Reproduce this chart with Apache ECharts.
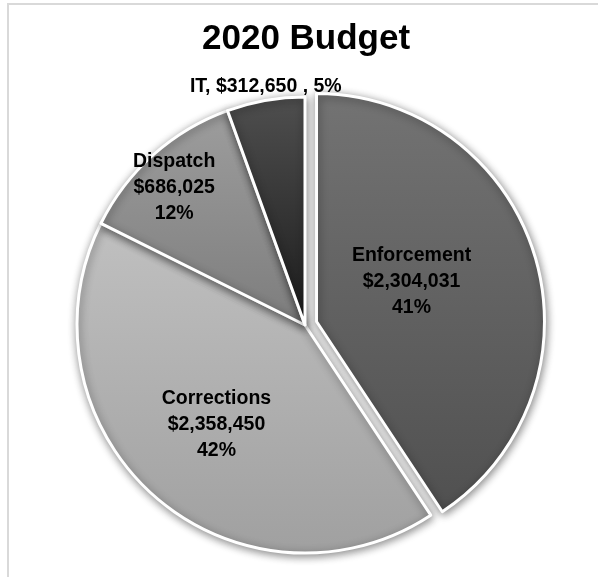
<!DOCTYPE html>
<html>
<head>
<meta charset="utf-8">
<script src="https://cdn.jsdelivr.net/npm/echarts@6/dist/echarts.min.js"></script>
<style>
html,body{margin:0;padding:0;background:#fff;}
#chart{width:598px;height:577px;}
</style>
</head>
<body>
<div id="chart"></div>
<script>
const titleText = '2020 Budget';
const categories = ['Enforcement', 'Corrections', 'Dispatch', 'IT'];
const values = [2304031, 2358450, 686025, 312650];
const singleLineLabels = ['IT'];
const explodedSlices = ['Enforcement'];

const sliceGradients = {
  'Enforcement': ['#737373', '#505050'],
  'Corrections': ['#c0c0c0', '#a0a0a0'],
  'Dispatch': ['#9d9d9d', '#7d7d7d'],
  'IT': ['#4f4f4f', '#1b1b1b']
};
const labelOffsets = {
  'Enforcement': [-17, -6],
  'Corrections': [-11, 12],
  'Dispatch': [-53, -50],
  'IT': [-19, -123]
};

const FONT = '"Liberation Sans", Arial, sans-serif';

const chart = echarts.init(document.getElementById('chart'), null, {renderer: 'canvas'});

const data = categories.map((name, i) => ({
  name: name,
  value: values[i],
  selected: explodedSlices.includes(name),
  itemStyle: {
    color: new echarts.graphic.LinearGradient(0, 0, 0, 1, [
      {offset: 0, color: sliceGradients[name][0]},
      {offset: 1, color: sliceGradients[name][1]}
    ])
  },
  label: {offset: labelOffsets[name]},
  select: {label: {offset: labelOffsets[name]}}
}));

function fmtMoney(v) {
  return '$' + v.toLocaleString('en-US');
}

chart.setOption({
  animation: false,
  backgroundColor: '#ffffff',
  title: {
    text: titleText,
    left: 197,
    top: 17,
    textStyle: {
      fontFamily: FONT,
      fontWeight: 'bold',
      fontSize: 35,
      color: '#000'
    }
  },
  graphic: [{
    type: 'rect',
    silent: true,
    z: -10,
    shape: {x: 8, y: 4, width: 640, height: 620},
    style: {fill: 'none', stroke: '#d9d9d9', lineWidth: 2}
  }],
  series: [{
    type: 'pie',
    center: [305, 325],
    radius: [0, 228],
    startAngle: 90,
    clockwise: true,
    selectedMode: 'single',
    selectedOffset: 12,
    percentPrecision: 0,
    emphasis: {disabled: true},
    itemStyle: {
      borderColor: '#ffffff',
      borderWidth: 3,
      shadowBlur: 9,
      shadowColor: 'rgba(0,0,0,0.45)',
      shadowOffsetX: 1,
      shadowOffsetY: 2
    },
    label: {
      show: true,
      position: 'inside',
      fontFamily: FONT,
      fontWeight: 'bold',
      fontSize: 19.5,
      lineHeight: 26,
      color: '#000',
      align: 'center',
      formatter: function (p) {
        if (singleLineLabels.includes(p.name)) {
          return p.name + ', ' + fmtMoney(p.value) + ' , ' + p.percent + '%';
        }
        return p.name + '\n' + fmtMoney(p.value) + '\n' + p.percent + '%';
      }
    },
    labelLine: {show: false},
    data: data
  }]
});
</script>
</body>
</html>
